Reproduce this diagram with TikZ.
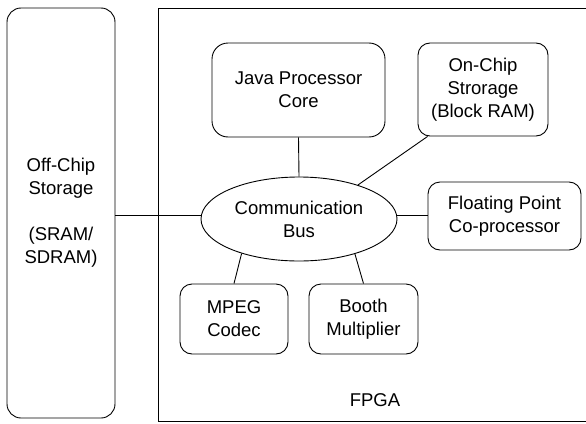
\documentclass[tikz,border=0pt]{standalone}
\usepackage{fontspec}
\setmainfont{Liberation Sans}
\usetikzlibrary{shapes.geometric}
\begin{document}
\begin{tikzpicture}[x=1pt,y=-1pt,
  lbl/.style={font=\fontsize{18.5}{23}\selectfont, align=center},
  unit/.style={draw, line width=0.9pt, rounded corners=12pt, lbl},
  link/.style={line width=0.9pt}]
\useasboundingbox (0,0) rectangle (586,423);

% FPGA enclosure (open on the right edge)
\draw[line width=0.9pt] (586,8) -- (158,8) -- (158,421) -- (586,421);
\node[lbl] (fpga) at (375,400) {FPGA};

% off-chip memory
\node[unit, rounded corners=14pt, minimum width=108pt, minimum height=410pt] (off) at (61,213)
  {Off-Chip\\Storage\\[23pt](SRAM/\\SDRAM)};

% bus
\node[draw, ellipse, line width=0.9pt, minimum width=196pt, minimum height=84pt, lbl, inner sep=0pt] (bus) at (299,219)
  {Communication\\Bus};

% units on the FPGA
\node[unit, rounded corners=16pt, minimum width=173pt, minimum height=94pt] (java) at (298.5,90) {Java Processor\\Core};
\node[unit, minimum width=130pt, minimum height=93pt] (onchip) at (483,89.5) {On-Chip\\Strorage\\(Block RAM)};
\node[unit, minimum width=153pt, minimum height=68pt] (fpu) at (504.5,216) {Floating Point\\Co-processor};
\node[unit, minimum width=108pt, minimum height=70pt] (mpeg) at (234,319) {MPEG\\Codec};
\node[unit, minimum width=109pt, minimum height=70pt] (booth) at (363.5,319) {Booth\\Multiplier};

% connections to the bus
\coordinate (oc) at ([xshift=10pt]onchip.south west);
\draw[link] (off.east |- 0,215) -- (bus.west |- 0,215);
\draw[link] (java.south) -- (bus.north);
\draw[link] (oc) -- (bus.30);
\draw[link] (bus.east |- 0,215) -- (fpu.west |- 0,215);
\draw[link] (bus.211) -- (mpeg.north);
\draw[link] (bus.-32) -- (booth.north);
\end{tikzpicture}
\end{document}
